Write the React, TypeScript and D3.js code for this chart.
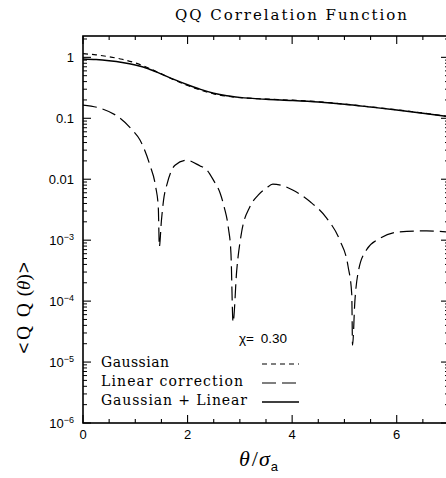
import React from "react";
import * as d3 from "d3";

// ---- data ----
const thetaMain = [0, 0.25, 0.5, 0.75, 1, 1.25, 1.5, 1.75, 2, 2.25, 2.5, 2.75, 3, 3.5, 4, 4.5, 5, 5.5, 6, 6.5, 7];
const gaussianVals = [1.15, 1.1, 1.02, 0.93, 0.81, 0.67, 0.535, 0.425, 0.345, 0.29, 0.252, 0.23, 0.218, 0.207, 0.198, 0.187, 0.171, 0.154, 0.138, 0.122, 0.107];
const totalVals = [0.94, 0.92, 0.88, 0.825, 0.75, 0.65, 0.53, 0.43, 0.355, 0.298, 0.258, 0.234, 0.22, 0.205, 0.196, 0.185, 0.17, 0.153, 0.137, 0.121, 0.106];

const thetaLin = [0, 0.33, 0.71, 0.93, 1.09, 1.28, 1.39, 1.44, 1.46, 1.5, 1.54, 1.61, 1.76, 1.98, 2.24, 2.36, 2.5, 2.62, 2.7, 2.78, 2.83, 2.87, 2.94, 3.03, 3.19, 3.35, 3.51, 3.63, 3.8, 4.02, 4.34, 4.66, 4.91, 5.07, 5.14, 5.155, 5.2, 5.27, 5.42, 5.68, 6.06, 6.57, 7];
const linVals = [0.165, 0.146, 0.1, 0.066, 0.044, 0.017, 0.0075, 0.0035, 0.00078, 0.0021, 0.0045, 0.0085, 0.017, 0.0205, 0.0165, 0.0145, 0.0095, 0.006, 0.0035, 0.0016, 0.0006, 0.000045, 0.00032, 0.0013, 0.0035, 0.0055, 0.0072, 0.0083, 0.0079, 0.0066, 0.0043, 0.0023, 0.001, 0.00037, 0.00013, 0.000019, 0.0001, 0.00032, 0.00069, 0.00107, 0.00137, 0.00142, 0.00136];

const xTickLabels = [0, 2, 4, 6];
const yDecades = [0, -1, -2, -3, -4, -5, -6];
const legendLabels = ["Gaussian", "Linear correction", "Gaussian + Linear"];
const chiLabel = "0.30";

const W = 446, H = 478;
const X0 = 83, X1 = 449, Y0 = 423, Y1 = 36;

export default function App() {
  const x = d3.scaleLinear().domain([0, 7]).range([X0, X1]);
  const y = d3.scaleLog().domain([1e-6, 2.24]).range([Y0, Y1]);

  const line = d3
    .line<[number, number]>()
    .x((d) => x(d[0]))
    .y((d) => y(d[1]))
    .curve(d3.curveMonotoneX);

  const gPath = line(thetaMain.map((t, i) => [t, gaussianVals[i]]) as [number, number][]) || "";
  const tPath = line(thetaMain.map((t, i) => [t, totalVals[i]]) as [number, number][]) || "";
  const lPath = line(thetaLin.map((t, i) => [t, linVals[i]]) as [number, number][]) || "";

  const xMinor = d3.range(0, 7.01, 0.5);
  const yMinor: number[] = [];
  for (let e = -6; e <= 0; e++) for (let m = 2; m <= 9; m++) {
    const v = m * Math.pow(10, e);
    if (v <= 2.24) yMinor.push(v);
  }

  const sans = "'Liberation Sans', Arial, sans-serif";
  const serif = "'DejaVu Serif', serif";

  const legendY = [364, 383, 402];
  const dashes = ["5,4", "14,6", null];

  return (
    <svg width={W} height={H} style={{ position: "absolute", left: 0, top: 0, background: "#fff" }}>
      <defs>
        <clipPath id="plot">
          <rect x={X0} y={Y1} width={X1 - X0} height={Y0 - Y1} />
        </clipPath>
      </defs>
      {/* title */}
      <text x={175} y={20} fontFamily={serif} fontSize={15} textLength={232} lengthAdjust="spacing">
        QQ Correlation Function
      </text>

      {/* axes frame */}
      <rect x={X0} y={Y1} width={X1 - X0} height={Y0 - Y1} fill="none" stroke="#000" strokeWidth={1.6} />

      {/* x ticks bottom/top */}
      {xMinor.map((t) => {
        const major = xTickLabels.includes(t);
        const len = major ? 8 : 4;
        return (
          <g key={"xt" + t}>
            <line x1={x(t)} x2={x(t)} y1={Y0} y2={Y0 - len} stroke="#000" strokeWidth={1.1} />
            <line x1={x(t)} x2={x(t)} y1={Y1} y2={Y1 + len} stroke="#000" strokeWidth={1.1} />
          </g>
        );
      })}
      {xTickLabels.map((t) => (
        <text key={"xl" + t} x={x(t)} y={439} textAnchor="middle" fontFamily={sans} fontSize={13}>
          {t}
        </text>
      ))}

      {/* y ticks */}
      {yDecades.map((e) => {
        const v = Math.pow(10, e);
        return (
          <g key={"yt" + e}>
            <line x1={X0} x2={X0 + 8} y1={y(v)} y2={y(v)} stroke="#000" strokeWidth={1.1} />
            <line x1={X1} x2={X1 - 8} y1={y(v)} y2={y(v)} stroke="#000" strokeWidth={1.1} />
          </g>
        );
      })}
      {yMinor.map((v, i) => (
        <g key={"ym" + i}>
          <line x1={X0} x2={X0 + 4} y1={y(v)} y2={y(v)} stroke="#000" strokeWidth={1} />
          <line x1={X1} x2={X1 - 4} y1={y(v)} y2={y(v)} stroke="#000" strokeWidth={1} />
        </g>
      ))}
      {yDecades.map((e) => {
        const v = Math.pow(10, e);
        const yy = y(v) + 4.5;
        if (e >= -2) {
          const lab = e === 0 ? "1" : e === -1 ? "0.1" : "0.01";
          return (
            <text key={"yl" + e} x={74} y={yy} textAnchor="end" fontFamily={sans} fontSize={13}>
              {lab}
            </text>
          );
        }
        return (
          <text key={"yl" + e} x={74} y={yy} textAnchor="end" fontFamily={sans} fontSize={13}>
            10
            <tspan fontSize={9} dy={-5}>{"\u2212" + -e}</tspan>
          </text>
        );
      })}

      {/* curves */}
      <g clipPath="url(#plot)" fill="none" stroke="#000">
        <path d={gPath} strokeWidth={1.2} strokeDasharray="5,4" />
        <path d={tPath} strokeWidth={1.4} />
        <path d={lPath} strokeWidth={1.2} strokeDasharray="14,6" />
      </g>

      {/* chi label */}
      <text x={239} y={343} fontFamily={sans} fontSize={13.5}>
        {"\u03c7= "}
        <tspan dx={3}>{chiLabel}</tspan>
      </text>

      {/* legend */}
      {legendLabels.map((lab, i) => (
        <g key={"lg" + i}>
          <text
            x={101}
            y={legendY[i] + 3}
            fontFamily={serif}
            fontSize={14}
            textLength={[68, 142, 146][i]}
            lengthAdjust="spacing"
          >
            {lab}
          </text>
          <line
            x1={262}
            x2={299}
            y1={legendY[i]}
            y2={legendY[i]}
            stroke="#000"
            strokeWidth={i === 2 ? 1.4 : 1.2}
            strokeDasharray={dashes[i] || undefined}
          />
        </g>
      ))}

      {/* x axis label */}
      <text x={239} y={466} fontFamily="'Liberation Serif', serif" fontSize={22}>
        <tspan fontStyle="italic">θ</tspan>
        <tspan dx={2}>/</tspan>
        <tspan dx={1} fontStyle="italic">σ</tspan>
        <tspan fontSize={13} dy={5} dx={1} fontFamily={sans}>a</tspan>
      </text>

      {/* y axis label */}
      <text
        transform="translate(30,308) rotate(-90)"
        textAnchor="middle"
        fontFamily="'Liberation Serif', serif"
        fontSize={19}
      >
        <tspan fontFamily={sans}>{"<"}</tspan>
        <tspan dx={3}>Q</tspan>
        <tspan dx={9}>Q</tspan>
        <tspan dx={7}>(</tspan>
        <tspan fontStyle="italic">θ</tspan>
        <tspan>)</tspan>
        <tspan dx={1} fontFamily={sans}>{">"}</tspan>
      </text>
    </svg>
  );
}
